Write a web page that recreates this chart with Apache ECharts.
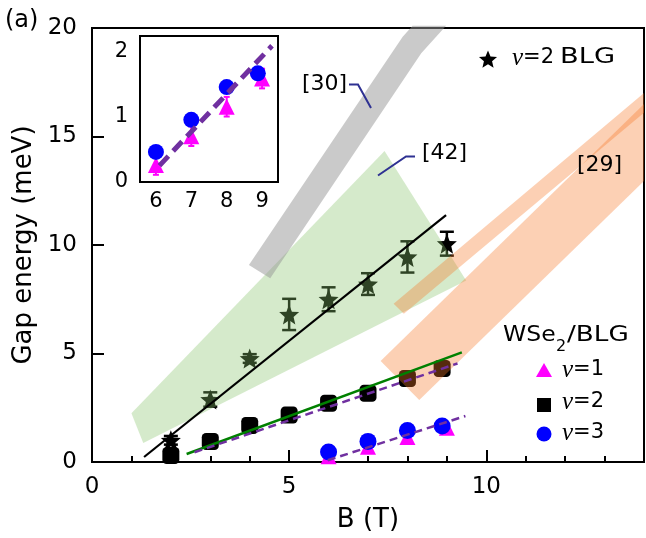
<!DOCTYPE html>
<html>
<head>
<meta charset="utf-8">
<script src="https://cdn.jsdelivr.net/npm/echarts@6/dist/echarts.min.js"></script>
<style>
html, body { margin: 0; padding: 0; background: #fff; }
#main { width: 646px; height: 538px; }
</style>
</head>
<body>
<div id="main"></div>
<script>
// v=2 BLG (stars) with error bars
var starB = [2, 3, 4, 5, 6, 7, 8, 9];
var starGap = [1.0, 2.88, 4.77, 6.8, 7.5, 8.2, 9.45, 10.06];
var starErr = [0.2, 0.33, 0.2, 0.72, 0.55, 0.5, 0.72, 0.55];

// WSe2/BLG
var sqB = [2, 3, 4, 5, 6, 7, 8, 8.88];
var sqGap = [0.3, 0.95, 1.68, 2.17, 2.71, 3.17, 3.85, 4.31];
var triB = [6, 7, 8, 9];
var triGap = [0.26, 0.70, 1.15, 1.58];
var triErr = [0.15, 0.15, 0.15, 0.15];
var cirB = [6, 7, 8, 8.88];
var cirGap = [0.46, 0.95, 1.45, 1.66];

// linear fits
var fitBLG = [[1.32, 0.23], [8.98, 11.38]];
var fitGreen = [[2.4, 0.37], [9.38, 5.05]];
var fitSq = [[2.6, 0.45], [9.27, 4.54]];
var fitOdd = [[5.98, 0.08], [9.47, 2.12]];
var fitInset = [[6.1, 0.25], [9.28, 2.08]];

// literature ranges
var band42 = [[1.0, 2.25], [1.30, 0.87], [9.49, 8.36], [7.42, 14.33]];
var band30 = [[3.98, 9.08], [4.52, 8.47], [8.35, 18.84], [8.98, 20.1], [8.13, 20.1], [7.88, 19.6]];
var band29a = [[7.65, 7.29], [7.91, 6.83], [14, 16.1], [14, 17.0]];
var band29b = [[7.32, 4.65], [8.30, 2.86], [14, 12.95], [14, 16.5]];

// ticks
var xLabels = [0, 5, 10];
var xMinor = [1, 2, 3, 4, 6, 7, 8, 9, 11, 12, 13];
var xMajor = [5, 10];
var inXTicks = [6, 7, 8, 9];
var inYTicks = [0, 0.5, 1, 1.5, 2];
var inYLabels = [0, 1, 2];

var FONT = 'DejaVu Sans';
var STAR = 'path://M0,-10L2.6,-3.4L9.51,-3.09L4.2,1.3L5.88,8.09L0,4.4L-5.88,8.09L-4.2,1.3L-9.51,-3.09L-2.6,-3.4Z';

function zip(a, b, c) {
	return a.map(function (v, i) { return c ? [v, b[i], c[i]] : [v, b[i]]; });
}

// star outline for the legend glyph
function starPoints(cx, cy, r) {
	var pts = [];
	for (var i = 0; i < 10; i++) {
		var rr = i % 2 ? r * 0.45 : r;
		var a = -Math.PI / 2 + i * Math.PI / 5;
		pts.push([cx + rr * Math.cos(a), cy + rr * Math.sin(a)]);
	}
	return pts;
}

function bandItem(pts, color) {
	return function (params, api) {
		return {
			type: 'polygon',
			shape: { points: pts.map(function (p) { return api.coord(p); }) },
			style: { fill: color }
		};
	};
}

function errItem(color, half, width) {
	return function (params, api) {
		var x = api.value(0), y = api.value(1), e = api.value(2);
		var top = api.coord([x, y + e]), bot = api.coord([x, y - e]);
		var st = { stroke: color, lineWidth: width };
		return { type: 'group', children: [
			{ type: 'line', shape: { x1: top[0], y1: top[1], x2: bot[0], y2: bot[1] }, style: st },
			{ type: 'line', shape: { x1: top[0] - half, y1: top[1], x2: top[0] + half, y2: top[1] }, style: st },
			{ type: 'line', shape: { x1: bot[0] - half, y1: bot[1], x2: bot[0] + half, y2: bot[1] }, style: st }
		]};
	};
}

function band(pts, color, z) {
	return { type: 'custom', xAxisIndex: 0, yAxisIndex: 0, z: z, silent: true,
		data: [[0, 0]], renderItem: bandItem(pts, color) };
}

function fit(pts, color, width, type, xi, yi, z) {
	return { type: 'line', xAxisIndex: xi, yAxisIndex: yi, z: z, data: pts, symbol: 'none', silent: true,
		lineStyle: { color: color, width: width, type: type } };
}

var tickFont = { fontFamily: FONT, color: '#000' };
var nuRich = { v: { fontFamily: 'Liberation Serif', fontStyle: 'italic', fontSize: 25, fill: '#000' } };

function label(x, y, text, size, sx) {
	return { type: 'text', x: x, y: y, z: 100, scaleX: sx || 1,
		style: { text: text, rich: nuRich, fontFamily: FONT, fontSize: size, fill: '#000', verticalAlign: 'middle' } };
}

function shape(type, sh, st) {
	return { type: type, z: 100, shape: sh, style: st };
}

var lead = { stroke: '#2e3192', lineWidth: 2, fill: null };

var option = {
	animation: false,
	backgroundColor: '#fff',
	grid: [
		{ left: 92, top: 28, right: 2, bottom: 74, show: true, borderColor: '#000', borderWidth: 2 },
		{ left: 140, top: 36, width: 138, height: 146, show: true, borderColor: '#000', borderWidth: 2, backgroundColor: '#fff', z: 1 }
	],
	xAxis: [
		{
			gridIndex: 0, type: 'value', min: 0, max: 14, position: 'bottom',
			name: 'B (T)', nameLocation: 'middle', nameGap: 45,
			nameTextStyle: { fontFamily: FONT, fontSize: 26, color: '#000' },
			axisLine: { lineStyle: { color: '#000', width: 2 } },
			axisTick: { inside: true, length: 6, customValues: xMinor, lineStyle: { color: '#000', width: 2 } },
			axisLabel: Object.assign({ fontSize: 23, margin: 14, customValues: xLabels }, tickFont),
			splitLine: { show: false }
		},
		{
			gridIndex: 0, type: 'value', min: 0, max: 14, position: 'bottom',
			axisLine: { show: false },
			axisTick: { inside: true, length: 12, customValues: xMajor, lineStyle: { color: '#000', width: 2 } },
			axisLabel: { show: false },
			splitLine: { show: false }
		},
		{
			gridIndex: 1, type: 'value', min: 5.55, max: 9.45, position: 'bottom',
			axisLine: { lineStyle: { color: '#000', width: 2 } },
			axisTick: { inside: true, length: 6, customValues: inXTicks, lineStyle: { color: '#000', width: 2 } },
			axisLabel: Object.assign({ fontSize: 21, margin: 9, customValues: inXTicks }, tickFont),
			splitLine: { show: false }
		}
	],
	yAxis: [
		{
			gridIndex: 0, type: 'value', min: 0, max: 20, interval: 5,
			name: 'Gap energy (meV)', nameLocation: 'middle', nameGap: 43,
			nameTextStyle: { fontFamily: FONT, fontSize: 26, color: '#000' },
			axisLine: { lineStyle: { color: '#000', width: 2 } },
			axisTick: { inside: true, length: 12, lineStyle: { color: '#000', width: 2 } },
			axisLabel: Object.assign({ fontSize: 23, margin: 15 }, tickFont),
			splitLine: { show: false }
		},
		{
			gridIndex: 1, type: 'value', min: 0, max: 2.23,
			axisLine: { lineStyle: { color: '#000', width: 2 } },
			axisTick: { inside: true, length: 6, customValues: inYTicks, lineStyle: { color: '#000', width: 2 } },
			axisLabel: Object.assign({ fontSize: 21, margin: 12, customValues: inYLabels }, tickFont),
			splitLine: { show: false }
		}
	],
	graphic: [
		label(5, 21, '(a)', 24),
		// top-right legend
		shape('polygon', { points: starPoints(488, 60, 9.5) }, { fill: '#000' }),
		label(512, 58, '{v|ν}=2', 21),
		label(560, 58, 'BLG', 21, 1.3),
		// WSe2/BLG legend
		label(503, 336, 'WSe', 21, 1.12),
		label(556, 347, '2', 16),
		label(567, 336, '/BLG', 21, 1.25),
		shape('polygon', { points: [[544, 363], [552, 377], [536, 377]] }, { fill: '#ff00ff' }),
		label(562, 370, '{v|ν}=1', 21),
		shape('rect', { x: 537, y: 398, width: 14, height: 14 }, { fill: '#000' }),
		label(562, 402, '{v|ν}=2', 21),
		shape('circle', { cx: 544, cy: 434, r: 7.5 }, { fill: '#0000ff' }),
		label(562, 433, '{v|ν}=3', 21),
		// reference labels
		label(302, 84, '[30]', 22),
		shape('polyline', { points: [[349, 84.5], [358, 84.5], [371, 108]] }, lead),
		label(422, 153, '[42]', 22),
		shape('polyline', { points: [[415, 156.5], [406, 156.5], [378, 175.5]] }, lead),
		label(577, 165, '[29]', 22)
	],
	series: [
		// markers that sit under the shaded ranges
		{ type: 'custom', xAxisIndex: 0, yAxisIndex: 0, z: 2, data: zip(starB, starGap, starErr), renderItem: errItem('#000', 7, 2.5) },
		{ type: 'scatter', xAxisIndex: 0, yAxisIndex: 0, z: 2, data: zip(starB, starGap), symbol: STAR, symbolSize: 20, itemStyle: { color: '#000', opacity: 1 } },
		{ type: 'scatter', xAxisIndex: 0, yAxisIndex: 0, z: 2, data: zip(sqB, sqGap), symbol: 'roundRect', symbolSize: 17, itemStyle: { color: '#000', opacity: 1 } },
		// shaded ranges
		band(band42, 'rgba(135,195,105,0.35)', 3),
		band(band30, 'rgba(150,150,150,0.5)', 3),
		band(band29a, 'rgba(245,120,40,0.35)', 3),
		band(band29b, 'rgba(245,120,40,0.35)', 3),
		// fits
		fit(fitBLG, '#000', 2.2, 'solid', 0, 0, 4),
		fit(fitGreen, '#008000', 2.5, 'solid', 0, 0, 4),
		fit(fitSq, '#7030a0', 2.5, [8, 5], 0, 0, 5),
		// v=1, v=3 main
		{ type: 'custom', xAxisIndex: 0, yAxisIndex: 0, z: 4, data: zip(triB, triGap, triErr), renderItem: errItem('#ff00ff', 3, 2) },
		{ type: 'scatter', xAxisIndex: 0, yAxisIndex: 0, z: 4, data: zip(triB, triGap), symbol: 'triangle', symbolSize: 16, itemStyle: { color: '#ff00ff', opacity: 1 } },
		{ type: 'scatter', xAxisIndex: 0, yAxisIndex: 0, z: 4, data: zip(cirB, cirGap), symbol: 'circle', symbolSize: 17, itemStyle: { color: '#0000ff', opacity: 1 } },
		fit(fitOdd, '#7030a0', 2.5, [8, 5], 0, 0, 5),
		// inset
		{ type: 'custom', xAxisIndex: 2, yAxisIndex: 1, z: 4, data: zip(triB, triGap, triErr), renderItem: errItem('#ff00ff', 3, 2) },
		{ type: 'scatter', xAxisIndex: 2, yAxisIndex: 1, z: 4, data: zip(triB, triGap), symbol: 'triangle', symbolSize: 16, itemStyle: { color: '#ff00ff', opacity: 1 } },
		{ type: 'scatter', xAxisIndex: 2, yAxisIndex: 1, z: 4, data: zip(cirB, cirGap), symbol: 'circle', symbolSize: 16, itemStyle: { color: '#0000ff', opacity: 1 } },
		fit(fitInset, '#7030a0', 5, [13, 7], 2, 1, 5)
	]
};

var chart = echarts.init(document.getElementById('main'));
chart.setOption(option);
</script>
</body>
</html>
